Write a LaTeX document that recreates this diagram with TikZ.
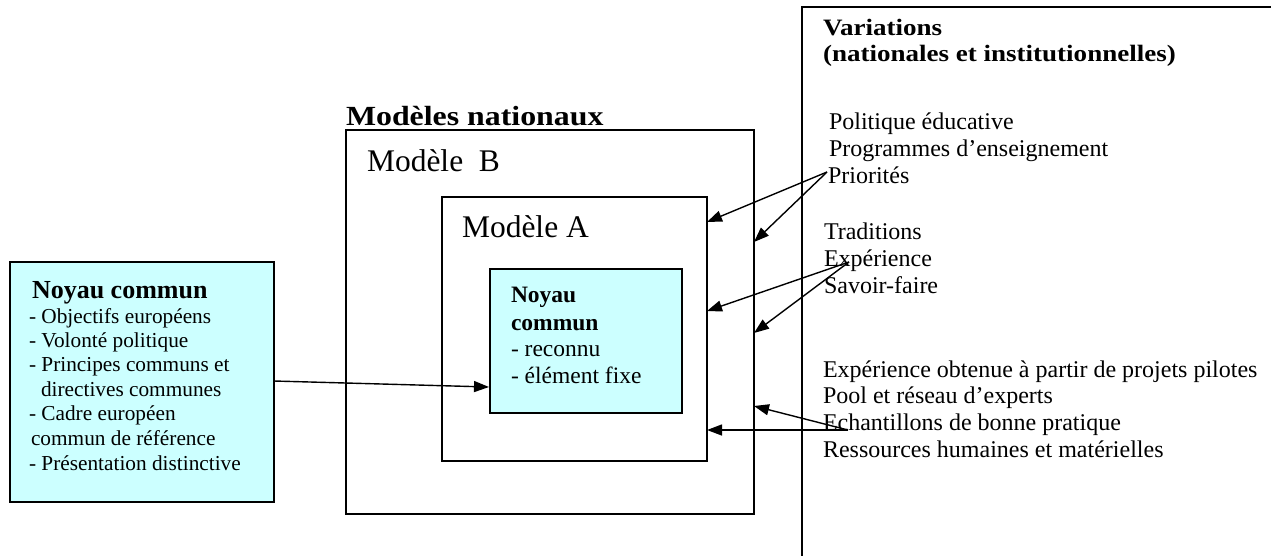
\documentclass[tikz,border=0pt]{standalone}
\usepackage{fontspec}
\setmainfont{Liberation Serif}
\newfontfamily\hdfont{Liberation Serif Bold}[FakeStretch=1.15]
\usetikzlibrary{arrows.meta}
\definecolor{cyanfill}{RGB}{204,255,255}
\begin{document}
\begin{tikzpicture}[x=1pt,y=-1pt,
  frame/.style={draw=black, line width=1.6pt, anchor=north west, inner sep=0pt, outer sep=0pt},
  cyanbox/.style={frame, fill=cyanfill},
  txt/.style={anchor=base west, inner sep=0pt, outer sep=0pt},
  rt/.style={txt, font=\fontsize{24}{28}\selectfont},
  lt/.style={txt, font=\fontsize{21.3}{25}\selectfont},
  it/.style={txt, font=\fontsize{23.5}{28}\selectfont},
  hd/.style={txt, font=\hdfont\fontsize{23.5}{28}\selectfont},
  arr/.style={line width=1.4pt, -{Triangle[length=15pt,width=11pt]}}
]
\useasboundingbox[fill=white] (0,0) rectangle (1271,555);

% boxes
\node[cyanbox, minimum width=264pt, minimum height=240pt] (lbox) at (10,262) {};
\node[frame, minimum width=408pt, minimum height=384pt] (modB) at (346,130) {};
\node[frame, minimum width=265pt, minimum height=264pt] (modA) at (442,197) {};
\node[cyanbox, minimum width=192pt, minimum height=144pt] (core) at (490,269) {};
\coordinate (vtl) at (802,7);
\coordinate (vbl) at (802,560);
\coordinate (vtr) at (1280,7);
\draw[line width=1.6pt] (vbl) -- (vtl) -- (vtr);

% title and model labels
\node[txt, font=\hdfont\fontsize{27.7}{32}\selectfont] (ttl) at (346,125) {Modèles nationaux};
\node[txt, font=\fontsize{31.5}{36}\selectfont] (labB) at (367,171) {Modèle\ \ B};
\node[txt, font=\fontsize{31.5}{36}\selectfont] (labA) at (462,237) {Modèle A};

% inner core text
\node[it, font=\fontsize{23.5}{28}\selectfont\bfseries] (c1) at (511,302) {Noyau};
\node[it, font=\fontsize{23.5}{28}\selectfont\bfseries] (c2) at (511,330) {commun};
\node[it] (c3) at (511,356) {- reconnu};
\node[it] (c4) at (511,383) {- élément fixe};

% left box text
\node[txt, font=\fontsize{26}{30}\selectfont\bfseries] (l0) at (32,298) {Noyau commun};
\node[lt] (l1) at (29,323) {- Objectifs européens};
\node[lt] (l2) at (29,347) {- Volonté politique};
\node[lt] (l3) at (29,371) {- Principes communs et};
\node[lt] (l4) at (41,396) {directives communes};
\node[lt] (l5) at (29,420) {- Cadre européen};
\node[lt] (l6) at (31,445) {commun de référence};
\node[lt] (l7) at (29,470) {- Présentation distinctive};

% right box text
\node[hd] (v0) at (823,35) {Variations};
\node[hd] (v1) at (823,61) {(nationales et institutionnelles)};
\node[rt] (r1) at (829,129) {Politique éducative};
\node[rt] (r2) at (829,156) {Programmes d’enseignement};
\node[rt] (r3) at (828,183) {Priorités};
\node[rt] (r4) at (824,239) {Traditions};
\node[rt] (r5) at (824,266) {Expérience};
\node[rt] (r6) at (824,293) {Savoir-faire};
\node[rt] (r7) at (823,377) {Expérience obtenue à partir de projets pilotes};
\node[rt] (r8) at (823,403) {Pool et réseau d’experts};
\node[rt] (r9) at (823,430) {Echantillons de bonne pratique};
\node[rt] (r10) at (823,457) {Ressources humaines et matérielles};

% arrow end points
\coordinate (sP) at (827,172);
\coordinate (sE) at (849,262);
\coordinate (sB) at (848,430);
\coordinate (sL) at (274,381);
\coordinate (tP1) at (707,222);
\coordinate (tP2) at (754,242);
\coordinate (tE1) at (707,311);
\coordinate (tE2) at (754,333);
\coordinate (tB1) at (707,430);
\coordinate (tB2) at (754,406);
\coordinate (tL) at (489,387);

\draw[arr] (sP) -- (tP1);
\draw[arr] (sP) -- (tP2);
\draw[arr] (sE) -- (tE1);
\draw[arr] (sE) -- (tE2);
\draw[arr] (sB) -- (tB1);
\draw[arr] (sB) -- (tB2);
\draw[arr] (sL) -- (tL);
\end{tikzpicture}
\end{document}
